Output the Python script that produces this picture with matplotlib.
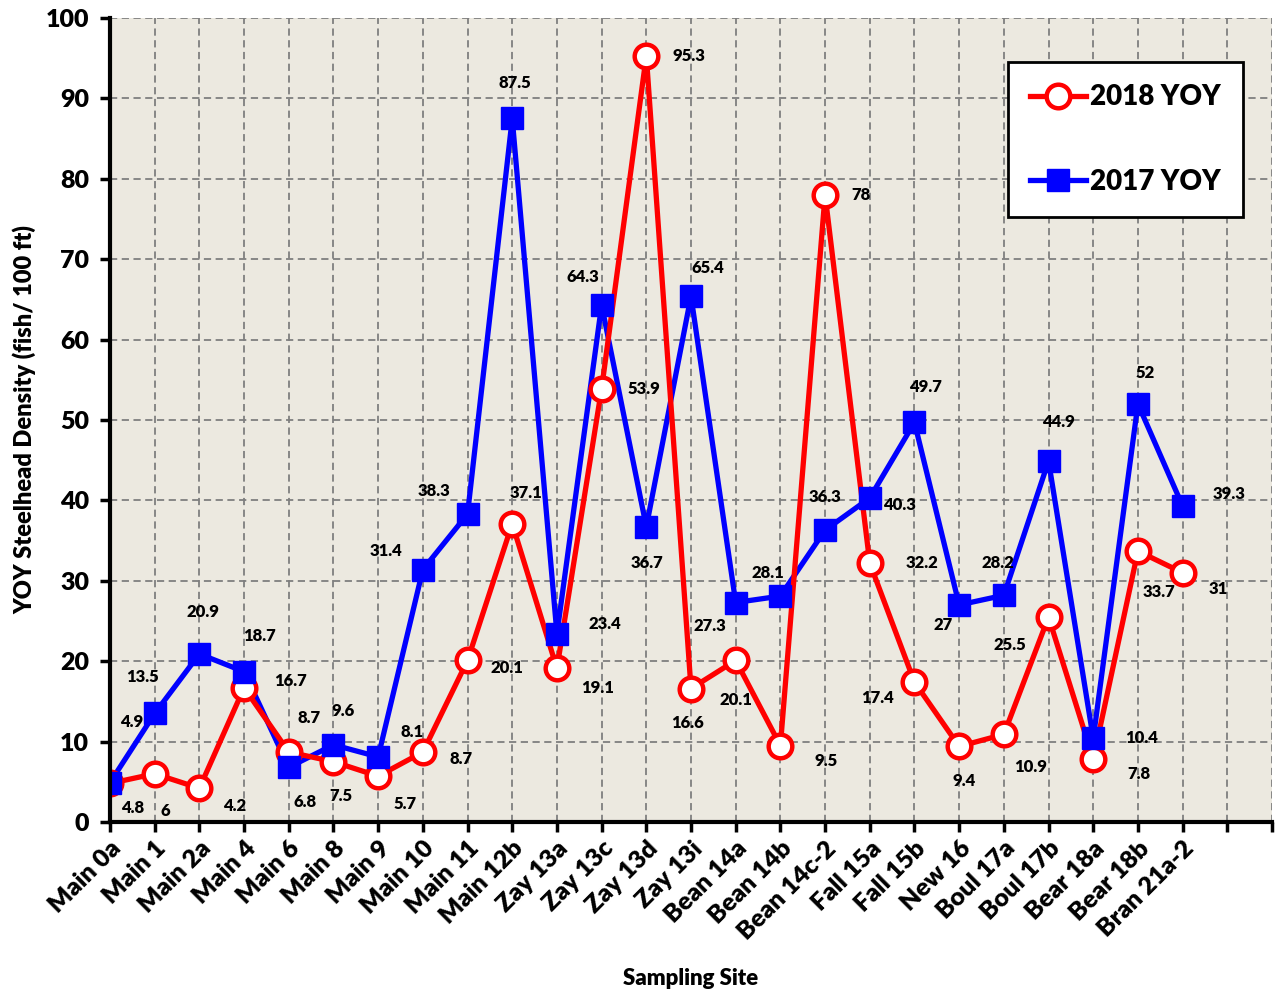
import numpy as np
import matplotlib
matplotlib.use("Agg")
from matplotlib import pyplot as plt
from matplotlib.lines import Line2D

plt.rcParams['font.family'] = ['Lato', 'DejaVu Sans']
plt.rcParams['font.weight'] = 'heavy'
W = 'heavy'

sites = ["Main 0a", "Main 1", "Main 2a", "Main 4", "Main 6", "Main 8", "Main 9",
         "Main 10", "Main 11", "Main 12b", "Zay 13a", "Zay 13c", "Zay 13d", "Zay 13i",
         "Bean 14a", "Bean 14b", "Bean 14c-2", "Fall 15a", "Fall 15b", "New 16",
         "Boul 17a", "Boul 17b", "Bear 18a", "Bear 18b", "Bran 21a-2"]
yoy_2018 = [4.8, 6, 4.2, 16.7, 8.7, 7.5, 5.7, 8.7, 20.1, 37.1, 19.1, 53.9, 95.3, 16.6,
            20.1, 9.5, 78, 32.2, 17.4, 9.4, 10.9, 25.5, 7.8, 33.7, 31]
yoy_2017 = [4.9, 13.5, 20.9, 18.7, 6.8, 9.6, 8.1, 31.4, 38.3, 87.5, 23.4, 64.3, 36.7, 65.4,
            27.3, 28.1, 36.3, 40.3, 49.7, 27, 28.2, 44.9, 10.4, 52, 39.3]

# label offsets (pixels, x right / y down)
off_2018 = [(23, 25), (11, 37), (35, 18), (46, -7), (20, -34), (7, 34), (27, 28), (38, 7),
            (39, 8), (14, -31), (41, 20), (42, 0), (43, 0), (-4, 34), (0, 40), (46, 15),
            (36, 0), (52, 0), (-37, 16), (5, 35), (27, 33), (-39, 28), (46, 15), (21, 41),
            (36, 16)]
off_2017 = [(22, -61), (-12, -36), (4, -42), (15, -36), (16, 35), (10, -34), (34, -25),
            (-37, -19), (-34, -23), (3, -35), (48, -10), (-19, -28), (1, 36), (17, -28),
            (-26, 23), (-13, -23), (0, -33), (30, 7), (11, -35), (-16, 20), (-6, -32),
            (10, -39), (48, 0), (7, -31), (46, -12)]

x = np.arange(len(sites))

fig = plt.figure(figsize=(12.81, 9.9), dpi=100)
ax = fig.add_axes([110 / 1281, 1 - 822 / 990, (1272 - 110) / 1281, (822 - 18) / 990])
ax.set_facecolor("#ECE9E0")

ax.plot(x, yoy_2017, color="#0000FF", lw=3.8, zorder=3)
ax.plot(x, yoy_2018, color="#FF0000", lw=3.8, zorder=3)
ax.plot(x, yoy_2018, ls="none", marker="o", ms=17, mfc="white", mec="#FF0000", mew=3.2, zorder=4)
ax.plot(x, yoy_2017, ls="none", marker="s", ms=16, mfc="#0000FF", mec="#0000FF", zorder=5)

for i in range(len(sites)):
    ax.annotate(str(yoy_2018[i]), (x[i], yoy_2018[i]),
                xytext=(off_2018[i][0] * 0.72, -off_2018[i][1] * 0.72), textcoords="offset points",
                ha="center", va="center", fontsize=12, fontweight=W, zorder=6)
    ax.annotate(str(yoy_2017[i]), (x[i], yoy_2017[i]),
                xytext=(off_2017[i][0] * 0.72, -off_2017[i][1] * 0.72), textcoords="offset points",
                ha="center", va="center", fontsize=12, fontweight=W, zorder=6)

ax.set_xlim(0, 26)
ax.set_ylim(0, 100)
ax.set_xticks(np.arange(27))
ax.set_xticklabels(sites + ["", ""], rotation=45, ha="right", rotation_mode="anchor",
                   fontsize=18, fontweight=W)
ax.set_yticks(np.arange(0, 101, 10))
ax.tick_params(axis="y", labelsize=18, width=2.5, length=7, pad=8)
ax.tick_params(axis="x", width=2.5, length=7, pad=4)
for lab in ax.get_yticklabels():
    lab.set_fontweight(W)

ax.grid(True, color="#7F7F7F", ls=(0, (4, 2.5)), lw=1.3, zorder=1)
ax.set_axisbelow(True)
for s in ["top", "right"]:
    ax.spines[s].set_visible(False)
ax.spines["left"].set_linewidth(3)
ax.spines["bottom"].set_linewidth(3)
ax.spines["left"].set_zorder(7)
ax.spines["bottom"].set_zorder(7)

ax.set_xlabel("Sampling Site", fontsize=16, fontweight=W, labelpad=18)
ax.set_ylabel("YOY Steelhead Density (fish/ 100 ft)", fontsize=17, fontweight=W, labelpad=7)

h18 = Line2D([], [], color="#FF0000", lw=3.8, marker="o", ms=17, mfc="white", mec="#FF0000", mew=3.2)
h17 = Line2D([], [], color="#0000FF", lw=3.8, marker="s", ms=16, mfc="#0000FF", mec="#0000FF")
leg = ax.legend([h18, h17], ["2018 YOY", "2017 YOY"], loc="upper right",
                bbox_to_anchor=((1243 - 110) / 1162, 1 - 44 / 804), fontsize=20, frameon=True,
                fancybox=False, edgecolor="black", framealpha=1, labelspacing=2.1,
                handlelength=2.0, handletextpad=0.15, borderpad=0.8, borderaxespad=0)
leg.get_frame().set_linewidth(2)
for t in leg.get_texts():
    t.set_fontweight(W)
leg.set_zorder(10)

plt.savefig("out.png", dpi=100)
